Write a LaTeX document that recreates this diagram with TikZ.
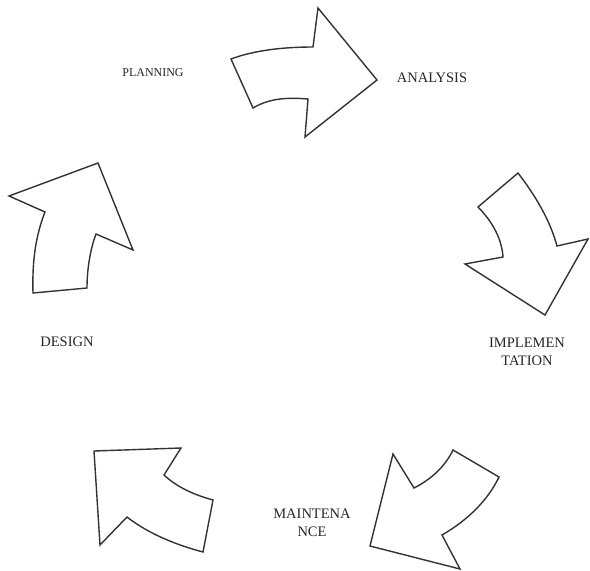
\documentclass[tikz,border=0pt]{standalone}
\usepackage{fontspec}
\setmainfont{Liberation Serif}
\begin{document}
\begin{tikzpicture}[x=1pt,y=-1pt,
  arrowshape/.style={draw=black!80,line width=1.4pt,line join=miter,fill=white},
  lbl/.style={text=black!85,font=\fontsize{14.5}{18}\selectfont,align=center,inner sep=0pt},
  smalllbl/.style={text=black!85,font=\fontsize{12}{14}\selectfont,inner sep=0pt}]
\useasboundingbox (0,0) rectangle (590,571);
% top arrow (planning -> analysis)
\draw[arrowshape] (231,59) .. controls (255,50) and (285,47) .. (313,47)
  -- (318,8) -- (377,80) -- (305,137) -- (308,99)
  .. controls (285,97) and (268,99) .. (253,108) -- cycle;
% right arrow (analysis -> implementation)
\draw[arrowshape] (478,207) -- (518,173)
  .. controls (535,195) and (550,220) .. (557,246)
  -- (588,239) -- (545,315) -- (465,264) -- (503,257)
  .. controls (502,240) and (493,222) .. (478,207) -- cycle;
% bottom-right arrow (implementation -> maintenance)
\draw[arrowshape] (453,450) -- (499,477)
  .. controls (488,500) and (468,520) .. (442,535)
  -- (460,569) -- (370,546) -- (393,454) -- (414,488)
  .. controls (430,480) and (445,467) .. (453,450) -- cycle;
% bottom-left arrow (maintenance -> design)
\draw[arrowshape] (164,475) .. controls (178,488) and (195,495) .. (213,500)
  -- (203,552)
  .. controls (180,546) and (150,535) .. (127,517)
  -- (100,545) -- (94,451) -- (181,448) -- cycle;
% left arrow (design -> planning)
\draw[arrowshape] (33,293) .. controls (32,260) and (36,235) .. (45,212)
  -- (9,196) -- (98,163) -- (133,250) -- (96,234)
  .. controls (90,250) and (87,270) .. (87,288) -- cycle;
% labels
\node[smalllbl] (planning) at (153,73) {PLANNING};
\node[lbl] (analysis) at (432,78) {ANALYSIS};
\node[lbl] (design) at (67,342) {DESIGN};
\node[lbl] (impl) at (527,352) {IMPLEMEN\\TATION};
\node[lbl] (maint) at (312,523) {MAINTENA\\NCE};
\end{tikzpicture}
\end{document}
